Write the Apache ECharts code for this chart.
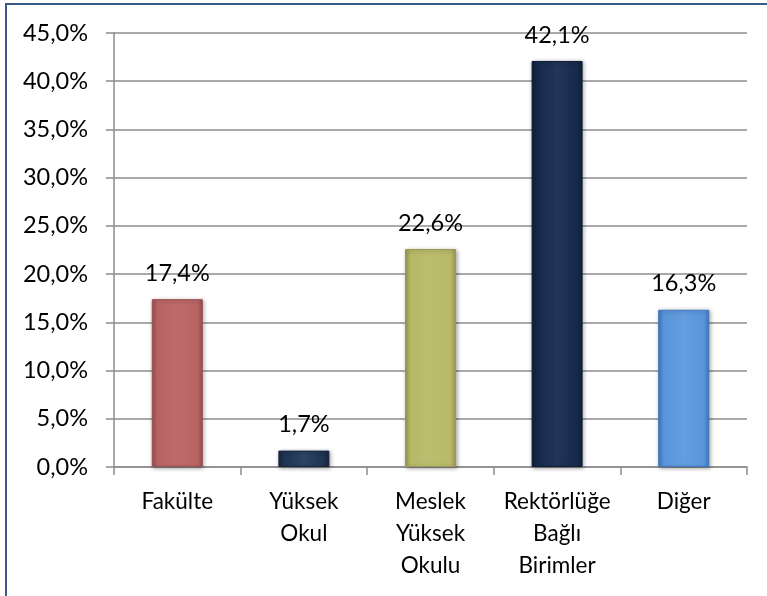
<!DOCTYPE html>
<html>
<head>
<meta charset="utf-8">
<script src="https://cdn.jsdelivr.net/npm/echarts@6/dist/echarts.min.js"></script>
<style>
  html, body { margin: 0; padding: 0; background: #fff; }
  #chart { width: 767px; height: 596px; }
</style>
</head>
<body>
<div id="chart"></div>
<script>
// birim türleri ve oranlar (%)
const categories = ['Fakülte', 'Yüksek\nOkul', 'Meslek\nYüksek\nOkulu', 'Rektörlüğe\nBağlı\nBirimler', 'Diğer'];
const values = [17.4, 1.7, 22.6, 42.1, 16.3];
const barColors = [
  ['#9c4f4f', '#bd6a6a', '#b86464'],
  ['#17253d', '#2d4566', '#1f3352'],
  ['#9a9a52', '#bdbd70', '#b8b868'],
  ['#101e36', '#22365a', '#17294a'],
  ['#3f78bf', '#649ee0', '#5a94da'],
];

const fmt = v => v.toFixed(1).replace('.', ',') + '%';

const chart = echarts.init(document.getElementById('chart'));

chart.setOption({
  backgroundColor: '#fff',
  animation: false,
  textStyle: { fontFamily: 'Lato, sans-serif' },
  graphic: [{
    type: 'rect',
    shape: { x: 6, y: 4, width: 820, height: 700 },
    style: { fill: 'none', stroke: '#3a5a8c', lineWidth: 2 },
    silent: true,
  }],
  grid: { left: 114, top: 33, right: 20, bottom: 129 },
  xAxis: {
    type: 'category',
    data: categories,
    axisLine: { lineStyle: { color: '#8c8c8c', width: 1.5 } },
    axisTick: { show: true, length: 8, alignWithLabel: false, lineStyle: { color: '#8c8c8c', width: 1.5 } },
    axisLabel: { color: '#000', fontSize: 22.5, lineHeight: 32, margin: 19, interval: 0 },
  },
  yAxis: {
    type: 'value',
    min: 0,
    max: 45,
    interval: 5,
    axisLine: { show: true, lineStyle: { color: '#8c8c8c', width: 1.5 } },
    axisTick: { show: true, length: 8, lineStyle: { color: '#8c8c8c', width: 1.5 } },
    splitLine: { lineStyle: { color: '#8c8c8c', width: 1.5 } },
    axisLabel: { color: '#000', fontSize: 23.5, margin: 26, formatter: v => fmt(v) },
  },
  series: [{
    type: 'bar',
    barWidth: 51,
    data: values.map((v, i) => ({
      value: v,
      itemStyle: {
        color: new echarts.graphic.LinearGradient(0, 0, 1, 0, [
          { offset: 0, color: barColors[i][0] },
          { offset: 0.1, color: barColors[i][2] },
          { offset: 0.5, color: barColors[i][1] },
          { offset: 0.9, color: barColors[i][2] },
          { offset: 1, color: barColors[i][0] },
        ]),
        borderColor: barColors[i][0],
        borderWidth: 1,
        shadowColor: 'rgba(0,0,0,0.35)',
        shadowBlur: 4,
        shadowOffsetX: 1,
        shadowOffsetY: 1,
      },
    })),
    label: {
      show: true,
      position: 'top',
      distance: 14,
      color: '#000',
      fontSize: 23.5,
      formatter: p => fmt(p.value),
    },
  }],
});
</script>
</body>
</html>
